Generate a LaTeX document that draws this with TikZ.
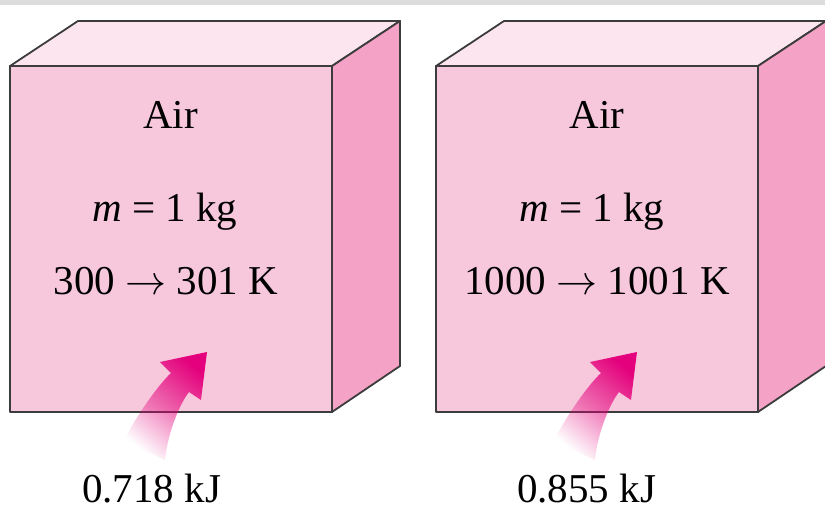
\documentclass[tikz,border=0pt]{standalone}
\usepackage{graphicx}
\usepackage{fontspec}
\setmainfont{Liberation Serif}
\usetikzlibrary{fadings}
\definecolor{frontc}{HTML}{F7C7DC}
\definecolor{topc}{HTML}{FCE5EF}
\definecolor{sidec}{HTML}{F4A2C6}
\definecolor{edgec}{HTML}{3C3C3C}
\definecolor{magc}{HTML}{E4007C}
\definecolor{barc}{HTML}{DCDCDC}
\newcommand{\bigarr}{\scalebox{4.1}{\fontsize{10}{12}\selectfont$\rightarrow$}}
\tikzfading[name=arrowfade, bottom color=transparent!100, top color=transparent!0]
\tikzset{
  face/.style={draw=edgec, line width=1.8pt, line join=round},
  lbl/.style={anchor=base, inner sep=0pt, font=\fontsize{41}{48}\selectfont},
  heatarrow/.style={fill=magc, path fading=arrowfade, fading angle=-33}
}
\begin{document}
\begin{tikzpicture}[x=1pt,y=-1pt]
\useasboundingbox (0,0) rectangle (825,509);
\clip (0,0) rectangle (825,509);
\fill[white] (0,0) rectangle (825,509);
\fill[barc] (0,0) rectangle (825,4.5);
% left box
\draw[face, fill=frontc] (10,66) rectangle (332,412);
\draw[face, fill=topc] (10,66) -- (78,21) -- (400,21) -- (332,66) -- cycle;
\draw[face, fill=sidec] (332,66) -- (400,21) -- (400,366) -- (332,412) -- cycle;
% right box
\draw[face, fill=frontc] (436,66) rectangle (758,412);
\draw[face, fill=topc] (436,66) -- (504,21) -- (826,21) -- (758,66) -- cycle;
\draw[face, fill=sidec] (758,66) -- (826,21) -- (826,366) -- (758,412) -- cycle;
% arrows
\fill[heatarrow] (124,441) .. controls (131,425) and (155,388) .. (171,373) -- (160,362) -- (207,352) -- (201,400) -- (189,392) .. controls (181,402) and (168,430) .. (165,460) -- cycle;
\fill[heatarrow] (554,441) .. controls (561,425) and (585,388) .. (601,373) -- (590,362) -- (637,352) -- (631,400) -- (619,392) .. controls (611,402) and (598,430) .. (595,460) -- cycle;
% texts
\node[lbl] (air1) at (170.5,128) {Air};
\node[lbl] (m1) at (165,221) {\textit{m} = 1 kg};
\node[lbl] (t1) at (166,294) {300 \bigarr{} 301 K};
\node[lbl] (air2) at (597,128) {Air};
\node[lbl] (m2) at (592,221) {\textit{m} = 1 kg};
\node[lbl] (t2) at (597,294) {1000 \bigarr{} 1001 K};
\node[lbl] (q1) at (151.5,502.5) {0.718 kJ};
\node[lbl] (q2) at (586.5,502.5) {0.855 kJ};
\end{tikzpicture}
\end{document}
